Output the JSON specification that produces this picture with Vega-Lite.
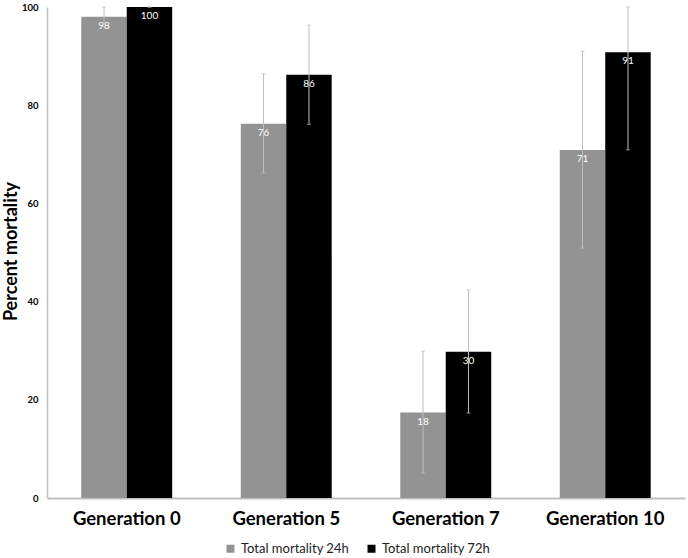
{
  "$schema": "https://vega.github.io/schema/vega-lite/v6.json",
  "description": "Percent mortality by generation, 24h and 72h",
  "autosize": "none",
  "padding": {"left": 47, "top": 7, "right": 3, "bottom": 60},
  "width": 638,
  "height": 491,
  "config": {
    "view": {"stroke": null},
    "font": "Lato"
  },
  "data": {
    "values": [
      {"gen": "Generation 0", "series": "Total mortality 24h", "value": 98, "lo": 96, "hi": 100, "label": "98"},
      {"gen": "Generation 0", "series": "Total mortality 72h", "value": 100, "lo": 100, "hi": 100, "label": "100"},
      {"gen": "Generation 5", "series": "Total mortality 24h", "value": 76.2, "lo": 66.2, "hi": 86.4, "label": "76"},
      {"gen": "Generation 5", "series": "Total mortality 72h", "value": 86.2, "lo": 76.1, "hi": 96.3, "label": "86"},
      {"gen": "Generation 7", "series": "Total mortality 24h", "value": 17.4, "lo": 5.1, "hi": 29.9, "label": "18"},
      {"gen": "Generation 7", "series": "Total mortality 72h", "value": 29.8, "lo": 17.3, "hi": 42.4, "label": "30"},
      {"gen": "Generation 10", "series": "Total mortality 24h", "value": 70.9, "lo": 50.9, "hi": 91.0, "label": "71"},
      {"gen": "Generation 10", "series": "Total mortality 72h", "value": 90.8, "lo": 70.9, "hi": 100, "label": "91"}
    ]
  },
  "encoding": {
    "x": {
      "field": "gen",
      "type": "nominal",
      "sort": ["Generation 0", "Generation 5", "Generation 7", "Generation 10"],
      "scale": {"paddingInner": 0.43, "paddingOuter": 0.215},
      "axis": {
        "title": null,
        "labelAngle": 0,
        "labelFontSize": 18.5,
        "labelFontWeight": "bold",
        "labelColor": "black",
        "labelPadding": 11,
        "ticks": false,
        "domainColor": "#bfbfbf",
        "domainWidth": 2
      }
    },
    "xOffset": {
      "field": "series",
      "type": "nominal",
      "scale": {"paddingInner": 0, "paddingOuter": 0}
    }
  },
  "layer": [
    {
      "mark": {"type": "bar"},
      "encoding": {
        "y": {
          "field": "value",
          "type": "quantitative",
          "scale": {"domain": [0, 100], "nice": false},
          "axis": {
            "title": "Percent mortality",
            "titleFontSize": 18,
            "titleFontWeight": "bold",
            "titleColor": "black",
            "titleAngle": -90,
            "titleX": -36,
            "titleY": 244,
            "titleAlign": "center",
            "titleBaseline": "middle",
            "values": [0, 20, 40, 60, 80, 100],
            "labelFontSize": 9.5,
            "labelFontWeight": "bold",
            "labelColor": "black",
            "labelPadding": 9,
            "ticks": false,
            "grid": false,
            "domainColor": "#bfbfbf",
            "domainWidth": 1.5
          }
        },
        "color": {
          "field": "series",
          "type": "nominal",
          "scale": {"domain": ["Total mortality 24h", "Total mortality 72h"], "range": ["#939393", "#000000"]},
          "legend": {
            "title": null,
            "orient": "none",
            "direction": "horizontal",
            "legendX": 177,
            "legendY": 535,
            "symbolType": "square",
            "symbolSize": 64,
            "symbolStrokeWidth": 0,
            "labelFontSize": 13,
            "labelColor": "#222222",
            "labelOffset": 4,
            "columnPadding": 16
          }
        }
      }
    },
    {
      "mark": {"type": "text", "color": "white", "fontSize": 10, "baseline": "top", "dy": 4},
      "encoding": {
        "y": {"field": "value", "type": "quantitative"},
        "text": {"field": "label"}
      }
    },
    {
      "mark": {"type": "rule", "color": "#bfbfbf", "strokeWidth": 1},
      "encoding": {
        "y": {"field": "lo", "type": "quantitative"},
        "y2": {"field": "hi"}
      }
    },
    {
      "mark": {"type": "tick", "color": "#bfbfbf", "thickness": 1, "size": 4, "orient": "horizontal"},
      "encoding": {
        "y": {"field": "hi", "type": "quantitative"}
      }
    },
    {
      "mark": {"type": "tick", "color": "#bfbfbf", "thickness": 1, "size": 4, "orient": "horizontal"},
      "encoding": {
        "y": {"field": "lo", "type": "quantitative"}
      }
    }
  ]
}
